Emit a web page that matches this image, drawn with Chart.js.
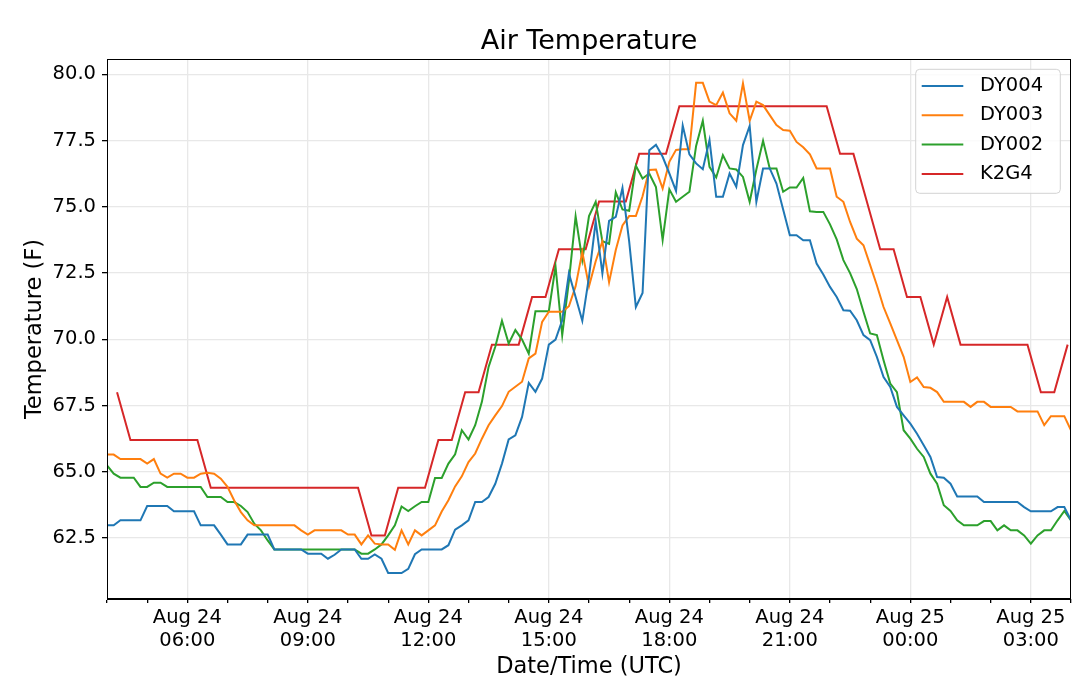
<!DOCTYPE html>
<html>
<head>
<meta charset="utf-8">
<title>Air Temperature</title>
<script src="https://cdn.jsdelivr.net/npm/chart.js"></script>
<style>
  html, body { margin: 0; padding: 0; background: #fff; }
  #wrap { width: 1079px; height: 694px; }
</style>
</head>
<body>
<div id="wrap"><canvas id="chart"></canvas></div>
<script>
// hours are counted from Aug 24 00:00 UTC
var dyStartHour = 4;
var dyStepMin = 10;
var k2g4StartHour = 4.25;
var k2g4StepMin = 20;

var seriesNames = ['DY004', 'DY003', 'DY002', 'K2G4'];

var dy004 = [
  62.98, 62.98, 63.17, 63.17, 63.17, 63.17, 63.71, 63.71, 63.71, 63.71,
  63.51, 63.51, 63.51, 63.51, 62.98, 62.98, 62.98, 62.63, 62.26, 62.26,
  62.26, 62.63, 62.63, 62.63, 62.63, 62.07, 62.07, 62.07, 62.07, 62.07,
  61.91, 61.91, 61.91, 61.72, 61.87, 62.07, 62.07, 62.07, 61.72, 61.72,
  61.88, 61.72, 61.18, 61.18, 61.18, 61.34, 61.89, 62.07, 62.07, 62.07,
  62.07, 62.23, 62.82, 62.98, 63.17, 63.86, 63.86, 64.05, 64.55, 65.31,
  66.22, 66.38, 67.07, 68.36, 68.02, 68.52, 69.80, 69.99, 70.72, 72.49,
  71.60, 70.70, 72.36, 74.45, 72.49, 74.47, 74.62, 75.71, 73.70, 71.22,
  71.75, 77.14, 77.34, 76.89, 76.26, 75.60, 78.07, 76.98, 76.64, 76.42,
  77.52, 75.38, 75.38, 76.26, 75.76, 77.33, 78.05, 75.19, 76.45, 76.45,
  75.88, 74.90, 73.93, 73.93, 73.74, 73.74, 72.86, 72.45, 71.98, 71.60,
  71.10, 71.08, 70.72, 70.16, 69.97, 69.34, 68.58, 68.20, 67.45, 67.13,
  66.82, 66.44, 66.00, 65.56, 64.80, 64.78, 64.55, 64.07, 64.07, 64.07,
  64.07, 63.86, 63.86, 63.86, 63.86, 63.86, 63.86, 63.67, 63.51, 63.51,
  63.51, 63.51, 63.67, 63.67, 63.17
];

var dy003 = [
  65.65, 65.65, 65.48, 65.48, 65.48, 65.48, 65.31, 65.48, 64.93, 64.78,
  64.93, 64.93, 64.78, 64.78, 64.93, 64.96, 64.93, 64.74, 64.43, 63.92,
  63.48, 63.17, 62.98, 62.98, 62.98, 62.98, 62.98, 62.98, 62.98, 62.79,
  62.63, 62.79, 62.79, 62.79, 62.79, 62.79, 62.63, 62.63, 62.26, 62.60,
  62.29, 62.26, 62.26, 62.06, 62.79, 62.26, 62.79, 62.60, 62.79, 62.98,
  63.50, 63.93, 64.45, 64.83, 65.37, 65.69, 66.25, 66.76, 67.13, 67.48,
  68.02, 68.21, 68.40, 69.28, 69.46, 70.66, 71.04, 71.04, 71.04, 71.25,
  72.00, 73.30, 72.00, 72.95, 73.70, 72.15, 73.37, 74.30, 74.65, 74.65,
  75.40, 76.39, 76.41, 75.69, 76.70, 77.15, 77.17, 77.17, 79.68, 79.68,
  78.97, 78.84, 79.31, 78.53, 78.25, 79.66, 78.25, 78.97, 78.84, 78.46,
  78.09, 77.90, 77.87, 77.45, 77.25, 76.98, 76.45, 76.45, 76.45, 75.38,
  75.19, 74.43, 73.80, 73.55, 72.80, 72.04, 71.22, 70.60, 69.97, 69.34,
  68.39, 68.56, 68.20, 68.17, 68.01, 67.64, 67.64, 67.64, 67.64, 67.45,
  67.64, 67.64, 67.45, 67.45, 67.45, 67.45, 67.28, 67.28, 67.28, 67.28,
  66.76, 67.10, 67.10, 67.10, 66.57
];

var dy002 = [
  65.24, 64.93, 64.78, 64.78, 64.78, 64.43, 64.43, 64.59, 64.59, 64.43,
  64.43, 64.43, 64.43, 64.43, 64.43, 64.05, 64.05, 64.05, 63.86, 63.86,
  63.71, 63.48, 63.04, 62.79, 62.41, 62.07, 62.07, 62.07, 62.07, 62.07,
  62.07, 62.07, 62.07, 62.07, 62.07, 62.07, 62.07, 62.07, 61.91, 61.91,
  62.07, 62.26, 62.60, 62.98, 63.69, 63.52, 63.70, 63.86, 63.86, 64.77,
  64.77, 65.31, 65.66, 66.57, 66.22, 66.76, 67.64, 68.96, 69.72, 70.70,
  69.84, 70.35, 69.99, 69.46, 71.06, 71.06, 71.06, 72.75, 70.16, 72.20,
  74.64, 73.00, 74.65, 75.19, 73.70, 73.60, 75.55, 74.90, 74.85, 76.55,
  76.07, 76.26, 75.75, 73.75, 75.66, 75.19, 75.38, 75.57, 77.30, 78.25,
  76.51, 76.11, 76.95, 76.45, 76.41, 76.13, 75.19, 76.41, 77.49, 76.45,
  76.45, 75.57, 75.73, 75.73, 76.09, 74.83, 74.81, 74.81, 74.34, 73.77,
  72.99, 72.50, 71.90, 71.04, 70.22, 70.16, 69.21, 68.33, 68.01, 66.57,
  66.25, 65.87, 65.56, 64.93, 64.55, 63.74, 63.52, 63.17, 62.98, 62.98,
  62.98, 63.14, 63.14, 62.79, 62.98, 62.79, 62.79, 62.60, 62.29, 62.60,
  62.79, 62.79, 63.17, 63.52, 63.17
];

var k2g4 = [
  68.0, 66.2, 66.2, 66.2, 66.2, 66.2, 66.2, 64.4, 64.4, 64.4,
  64.4, 64.4, 64.4, 64.4, 64.4, 64.4, 64.4, 64.4, 64.4, 62.6,
  62.6, 64.4, 64.4, 64.4, 66.2, 66.2, 68.0, 68.0, 69.8, 69.8,
  69.8, 71.6, 71.6, 73.4, 73.4, 73.4, 75.2, 75.2, 75.2, 77.0,
  77.0, 77.0, 78.8, 78.8, 78.8, 78.8, 78.8, 78.8, 78.8, 78.8,
  78.8, 78.8, 78.8, 78.8, 77.0, 77.0, 75.2, 73.4, 73.4, 71.6,
  71.6, 69.8, 71.6, 69.8, 69.8, 69.8, 69.8, 69.8, 69.8, 68.0,
  68.0, 69.8
];

var xTickHours = [6, 9, 12, 15, 18, 21, 24, 27];
var xTickLabels = [
  ['Aug 24', '06:00'], ['Aug 24', '09:00'], ['Aug 24', '12:00'], ['Aug 24', '15:00'],
  ['Aug 24', '18:00'], ['Aug 24', '21:00'], ['Aug 25', '00:00'], ['Aug 25', '03:00']
];
var yTicks = [62.5, 65.0, 67.5, 70.0, 72.5, 75.0, 77.5, 80.0];

var colors = ['#1f77b4', '#ff7f0e', '#2ca02c', '#d62728'];

function toPoints(values, startHour, stepMin) {
  return values.map(function(v, i) {
    return { x: startHour + i * stepMin / 60, y: v };
  });
}

var frameAndLegend = {
  id: 'frameAndLegend',
  afterDraw: function(chart) {
    var ctx = chart.ctx;
    var a = chart.chartArea;
    ctx.save();
    ctx.strokeStyle = '#000';
    ctx.lineWidth = 1;
    ctx.strokeRect(a.left + 0.5, a.top + 0.5, a.right - a.left - 1, a.bottom - a.top - 1);

    var x0 = a.right - 155.3, y0 = a.top + 10.3, w = 144.6, h = 124;
    ctx.fillStyle = 'rgba(255,255,255,0.8)';
    ctx.strokeStyle = '#d3d3d3';
    ctx.beginPath();
    if (ctx.roundRect) ctx.roundRect(x0, y0, w, h, 4); else ctx.rect(x0, y0, w, h);
    ctx.fill();
    ctx.stroke();

    ctx.font = '19.5px "DejaVu Sans"';
    ctx.textBaseline = 'middle';
    chart.data.datasets.forEach(function(ds, k) {
      var y = y0 + 16.7 + k * 29.3;
      ctx.strokeStyle = ds.borderColor;
      ctx.lineWidth = 2;
      ctx.beginPath();
      ctx.moveTo(x0 + 6, y);
      ctx.lineTo(x0 + 47.6, y);
      ctx.stroke();
      ctx.fillStyle = '#000';
      ctx.fillText(ds.label, x0 + 64.3, y);
    });
    ctx.restore();
  }
};

Chart.defaults.font.family = '"DejaVu Sans"';
Chart.defaults.color = '#000';

var ctx = document.getElementById('chart').getContext('2d');
var chart = new Chart(ctx, {
  type: 'line',
  data: {
    datasets: [
      { label: seriesNames[0], data: toPoints(dy004, dyStartHour, dyStepMin) },
      { label: seriesNames[1], data: toPoints(dy003, dyStartHour, dyStepMin) },
      { label: seriesNames[2], data: toPoints(dy002, dyStartHour, dyStepMin) },
      { label: seriesNames[3], data: toPoints(k2g4, k2g4StartHour, k2g4StepMin) }
    ].map(function(ds, k) {
      ds.borderColor = colors[k];
      ds.backgroundColor = colors[k];
      ds.borderWidth = 2;
      ds.pointRadius = 0;
      ds.tension = 0;
      ds.fill = false;
      return ds;
    })
  },
  options: {
    responsive: true,
    maintainAspectRatio: false,
    animation: false,
    layout: { padding: { left: 0, right: 8, top: 0, bottom: 0 } },
    plugins: {
      legend: { display: false },
      tooltip: { enabled: false },
      title: {
        display: true,
        fullSize: false,
        text: 'Air Temperature',
        color: '#000',
        font: { size: 27, weight: 'normal' },
        padding: { top: 25.6, bottom: 1 }
      }
    },
    scales: {
      x: {
        type: 'linear',
        min: 4,
        max: 28,
        afterBuildTicks: function(scale) {
          var t = [];
          for (var hr = 4; hr <= 28; hr++) t.push({ value: hr });
          scale.ticks = t;
        },
        afterFit: function(scale) { scale.height = 95; },
        ticks: {
          autoSkip: false,
          maxRotation: 0,
          padding: 3,
          font: { size: 19.5 },
          color: '#000',
          callback: function(v) {
            var k = xTickHours.indexOf(v);
            return k >= 0 ? xTickLabels[k] : '';
          }
        },
        grid: {
          color: function(c) {
            return (c.tick && xTickHours.indexOf(c.tick.value) >= 0) ? '#e8e8e8' : 'rgba(0,0,0,0)';
          },
          lineWidth: 1.3,
          tickColor: '#000',
          tickLength: 4
        },
        border: { color: '#000', width: 1 },
        title: {
          display: true,
          text: 'Date/Time (UTC)',
          color: '#000',
          font: { size: 22.5 },
          padding: { top: 0, bottom: 13 }
        }
      },
      y: {
        type: 'linear',
        min: 60.2,
        max: 80.58,
        afterBuildTicks: function(scale) {
          scale.ticks = yTicks.map(function(v) { return { value: v }; });
        },
        afterFit: function(scale) { scale.width = 107; },
        ticks: {
          padding: 6,
          font: { size: 19.5 },
          color: '#000',
          callback: function(v) { return v.toFixed(1); }
        },
        grid: {
          color: '#e8e8e8',
          lineWidth: 1.3,
          tickColor: '#000',
          tickLength: 5
        },
        border: { color: '#000', width: 1 },
        title: {
          display: true,
          text: 'Temperature (F)',
          color: '#000',
          font: { size: 22.5 },
          padding: { top: 22, bottom: 0 }
        }
      }
    }
  },
  plugins: [frameAndLegend]
});
</script>
</body>
</html>
